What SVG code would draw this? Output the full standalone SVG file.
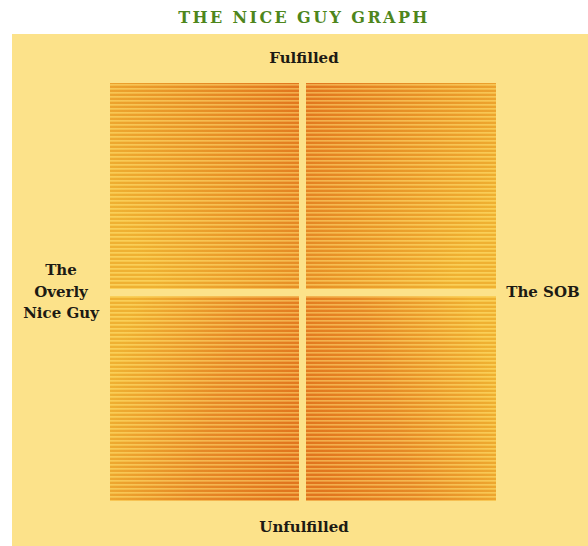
<svg xmlns="http://www.w3.org/2000/svg" width="588" height="546" viewBox="0 0 588 546">
<style>
.title{font-family:"DejaVu Serif","Liberation Serif",serif;font-size:16px;font-weight:600;fill:#4E861C;letter-spacing:2.4px;text-anchor:middle}
.lbl{font-family:"DejaVu Serif","Liberation Serif",serif;font-size:15px;font-weight:bold;fill:#1C1A14;text-anchor:middle}
.stripe{fill:url(#stripes)}
</style>
<defs>
<pattern id="stripes" patternUnits="userSpaceOnUse" width="8" height="4">
<rect x="0" y="0" width="8" height="1.6" fill="#FFE27A" fill-opacity="0.5"/>
<rect x="0" y="2.4" width="8" height="1.2" fill="#C85A10" fill-opacity="0.18"/>
</pattern>
<linearGradient id="gTL" x1="0" y1="0.6" x2="1" y2="0">
<stop offset="0" stop-color="#F4BC36"/>
<stop offset="0.5" stop-color="#EC9A2A"/>
<stop offset="1" stop-color="#E4781F"/>
</linearGradient>
<linearGradient id="gTR" x1="1" y1="0.6" x2="0" y2="0">
<stop offset="0" stop-color="#F4BC36"/>
<stop offset="0.5" stop-color="#EC9A2A"/>
<stop offset="1" stop-color="#E4781F"/>
</linearGradient>
<linearGradient id="gBL" x1="0" y1="0.4" x2="1" y2="0.7">
<stop offset="0" stop-color="#F4BC36"/>
<stop offset="0.55" stop-color="#EA8E28"/>
<stop offset="1" stop-color="#E4781F"/>
</linearGradient>
<linearGradient id="gBR" x1="1" y1="0.4" x2="0" y2="0.7">
<stop offset="0" stop-color="#F4BC36"/>
<stop offset="0.55" stop-color="#EA8E28"/>
<stop offset="1" stop-color="#E4781F"/>
</linearGradient>
</defs>
<rect width="588" height="546" fill="#FFFFFF"/>
<text class="title" x="304" y="23">THE NICE GUY GRAPH</text>
<rect id="panel" x="12" y="34" width="576" height="512" fill="#FCE28A"/>
<g id="quadrant-tl">
<rect x="110" y="83" width="189" height="206" fill="url(#gTL)"/>
<rect x="110" y="83" width="189" height="206" class="stripe"/>
</g>
<g id="quadrant-tr">
<rect x="306" y="83" width="190" height="206" fill="url(#gTR)"/>
<rect x="306" y="83" width="190" height="206" class="stripe"/>
</g>
<g id="quadrant-bl">
<rect x="110" y="296" width="189" height="205" fill="url(#gBL)"/>
<rect x="110" y="296" width="189" height="205" class="stripe"/>
</g>
<g id="quadrant-br">
<rect x="306" y="296" width="190" height="205" fill="url(#gBR)"/>
<rect x="306" y="296" width="190" height="205" class="stripe"/>
</g>
<g id="connectors"></g>
<g id="label-fulfilled"><text class="lbl" x="304" y="63">Fulfilled</text></g>
<g id="label-unfulfilled"><text class="lbl" x="304" y="532">Unfulfilled</text></g>
<g id="label-nice"><text class="lbl" x="61" y="275">The</text><text class="lbl" x="61" y="297">Overly</text><text class="lbl" x="61" y="318">Nice Guy</text></g>
<g id="label-sob"><text class="lbl" x="543" y="297">The SOB</text></g>
</svg>
